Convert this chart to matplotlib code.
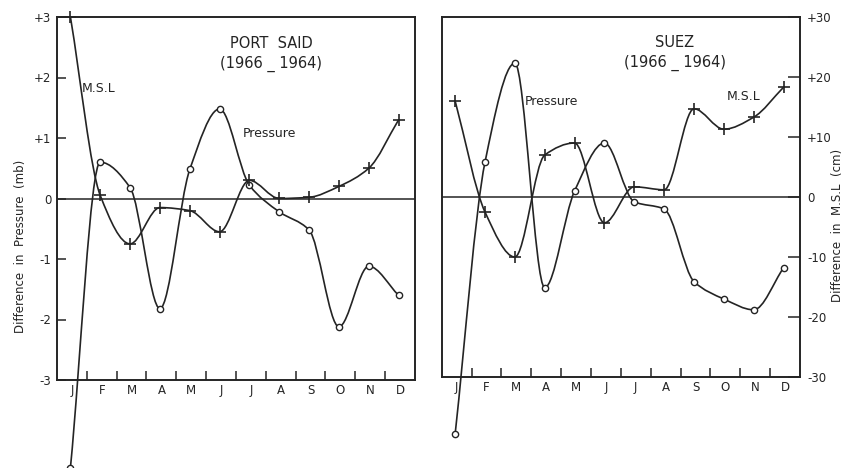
import numpy as np
import matplotlib
matplotlib.use("Agg")
import matplotlib.pyplot as plt
from matplotlib.path import Path
from matplotlib.patches import PathPatch

months = ["J", "F", "M", "A", "M", "J", "J", "A", "S", "O", "N", "D"]

# Differences 1966 minus 1964
port_said_pressure_mb = [-4.45, 0.60, 0.18, -1.82, 0.48, 1.48, 0.22, -0.22, -0.52, -2.12, -1.12, -1.60]
port_said_msl_cm = [30.0, 0.5, -7.5, -1.5, -2.0, -5.5, 3.0, 0.0, 0.2, 2.0, 5.0, 13.0]
suez_pressure_mb = [-3.95, 0.58, 2.23, -1.51, 0.10, 0.90, -0.08, -0.20, -1.41, -1.70, -1.88, -1.18]
suez_msl_cm = [16.0, -2.5, -10.0, 7.0, 9.0, -4.3, 1.7, 1.2, 14.7, 11.3, 13.3, 18.3]

mb_ticks = [3, 2, 1, 0, -1, -2, -3]
mb_labels = ["+3", "+2", "+1", "0", "-1", "-2", "-3"]
cm_ticks = [30, 20, 10, 0, -10, -20, -30]
cm_labels = ["+30", "+20", "+10", "0", "-10", "-20", "-30"]

INK = "#242424"
plt.rcParams["font.family"] = "DejaVu Sans"


def pchip_slopes(x, y):
    """Shape-preserving (Fritsch-Carlson) tangents."""
    h = np.diff(x)
    d = np.diff(y) / h
    m = np.zeros_like(y)
    for k in range(1, len(y) - 1):
        if d[k - 1] * d[k] > 0:
            w1 = 2 * h[k] + h[k - 1]
            w2 = h[k] + 2 * h[k - 1]
            m[k] = (w1 + w2) / (w1 / d[k - 1] + w2 / d[k])
    m[0] = d[0]
    m[-1] = d[-1]
    return m


def smooth_path(x, y):
    """Smooth curve through the points as a cubic Bezier path."""
    x = np.asarray(x, float)
    y = np.asarray(y, float)
    m = pchip_slopes(x, y)
    verts = [(x[0], y[0])]
    codes = [Path.MOVETO]
    for i in range(len(x) - 1):
        h = x[i + 1] - x[i]
        verts += [(x[i] + h / 3, y[i] + m[i] * h / 3),
                  (x[i + 1] - h / 3, y[i + 1] - m[i + 1] * h / 3),
                  (x[i + 1], y[i + 1])]
        codes += [Path.CURVE4] * 3
    return Path(verts, codes)


def draw_series(ax, x, y, marker, ms, mew):
    ax.add_patch(PathPatch(smooth_path(x, y), fill=False, ec=INK, lw=1.2,
                           clip_on=False, zorder=3))
    ax.plot(x, y, ls="none", marker=marker, ms=ms, mew=mew, mec=INK,
            mfc="white", clip_on=False, zorder=4)


fig = plt.figure(figsize=(8.45, 4.68), dpi=100)
fig.patch.set_facecolor("white")

W, H = 845.0, 468.0
panels = [
    dict(box=(57, 17, 415, 380), pres=port_said_pressure_mb, msl=port_said_msl_cm,
         title="PORT  SAID", side="left",
         msl_lab=(0.070, 0.802), pres_lab=(0.520, 0.680), title_x=0.598),
    dict(box=(441.7, 17, 800, 377), pres=suez_pressure_mb, msl=suez_msl_cm,
         title="SUEZ", side="right",
         msl_lab=(0.796, 0.778), pres_lab=(0.2325, 0.764), title_x=0.651),
]

xpos = np.arange(12) + 0.45

for pn in panels:
    x0, y0, x1, y1 = pn["box"]
    ax = fig.add_axes([x0 / W, 1 - y1 / H, (x1 - x0) / W, (y1 - y0) / H])
    ax2 = ax.twinx()
    ax.set_xlim(0, 12)
    ax.set_ylim(-3, 3)
    ax2.set_ylim(-30, 30)
    for a in (ax, ax2):
        for s in a.spines.values():
            s.set_color(INK)
            s.set_linewidth(1.2)

    # month boundaries as inward ticks, names centred in each month
    ax.set_xticks(np.arange(1, 12))
    ax.set_xticklabels([])
    ax.tick_params(axis="x", which="major", direction="in", length=6.5,
                   width=1.1, color=INK)
    ax.set_xticks(np.arange(12) + 0.5, minor=True)
    ax.set_xticklabels(months, minor=True, fontsize=8.5, color=INK)
    ax.tick_params(axis="x", which="minor", length=0, pad=3)

    if pn["side"] == "left":
        ax.set_yticks(mb_ticks)
        ax.set_yticklabels(mb_labels, fontsize=8.5, color=INK)
        ax.tick_params(axis="y", direction="in", length=6.5, width=1.1,
                       color=INK, pad=4)
        ax2.set_yticks([])
    else:
        ax.set_yticks([])
        ax2.set_yticks(cm_ticks)
        ax2.set_yticklabels(cm_labels, fontsize=8.5, color=INK)
        ax2.tick_params(axis="y", direction="in", length=9, width=1.1,
                        color=INK, pad=5)

    ax.axhline(0, color=INK, lw=1.1, zorder=2)

    draw_series(ax, xpos, pn["pres"], "o", 4.5, 1.0)
    draw_series(ax2, xpos, pn["msl"], "+", 8, 1.2)

    ax.text(pn["title_x"], 0.928, pn["title"], transform=ax.transAxes,
            ha="center", va="center", fontsize=10.5, color=INK)
    ax.text(pn["title_x"], 0.872, "(1966 _ 1964)", transform=ax.transAxes,
            ha="center", va="center", fontsize=10.5, color=INK)
    ax.text(pn["msl_lab"][0], pn["msl_lab"][1], "M.S.L", transform=ax.transAxes,
            ha="left", va="center", fontsize=9, color=INK)
    ax.text(pn["pres_lab"][0], pn["pres_lab"][1], "Pressure", transform=ax.transAxes,
            ha="left", va="center", fontsize=9, color=INK)

fig.text(21 / W, 1 - 246 / H, "Difference  in  Pressure  (mb)", rotation=90,
         ha="center", va="center", fontsize=8.5, color=INK)
fig.text(838 / W, 1 - 225 / H, "Difference  in  M.S.L  (cm)", rotation=90,
         ha="center", va="center", fontsize=8.5, color=INK)

fig.savefig("out.png", dpi=100, facecolor="white")
